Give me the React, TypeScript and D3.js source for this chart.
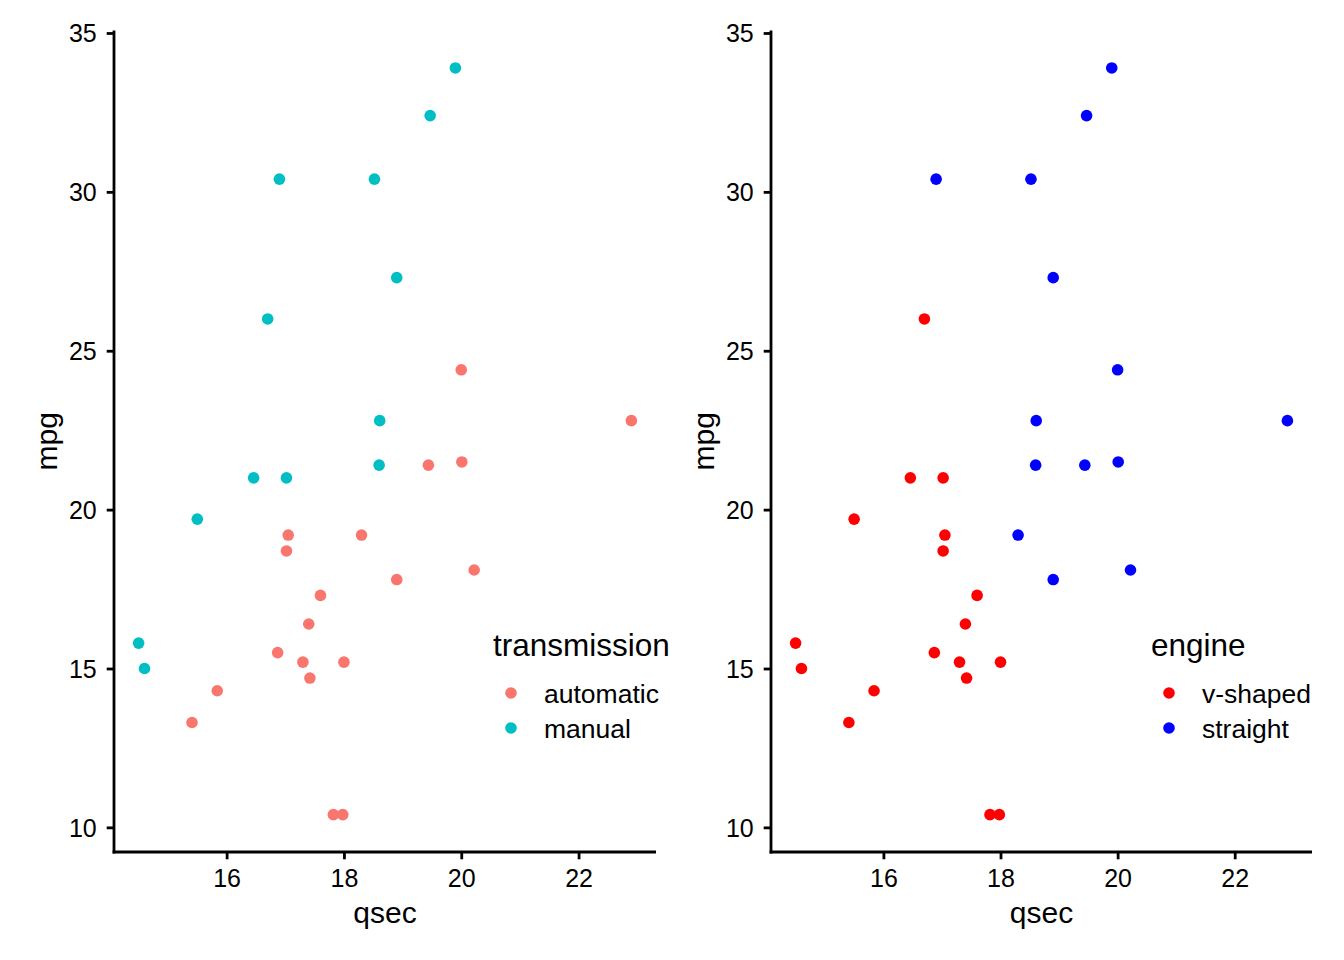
import { useEffect, useRef } from "react";
import * as d3 from "d3";

// mtcars: qsec vs mpg
const qsec = [16.46, 17.02, 18.61, 19.44, 17.02, 20.22, 15.84, 20.0, 22.9, 18.3, 18.9, 17.4, 17.6, 18.0, 17.98, 17.82, 17.42, 19.47, 18.52, 19.9, 20.01, 16.87, 17.3, 15.41, 17.05, 18.9, 16.7, 16.9, 14.5, 15.5, 14.6, 18.6];
const mpg = [21.0, 21.0, 22.8, 21.4, 18.7, 18.1, 14.3, 24.4, 22.8, 19.2, 17.8, 16.4, 17.3, 15.2, 10.4, 10.4, 14.7, 32.4, 30.4, 33.9, 21.5, 15.5, 15.2, 13.3, 19.2, 27.3, 26.0, 30.4, 15.8, 19.7, 15.0, 21.4];
const am = [1, 1, 1, 0, 0, 0, 0, 0, 0, 0, 0, 0, 0, 0, 0, 0, 0, 1, 1, 1, 0, 0, 0, 0, 0, 1, 1, 1, 1, 1, 1, 1];
const vs = [0, 0, 1, 1, 0, 1, 0, 1, 1, 1, 1, 0, 0, 0, 0, 0, 0, 1, 1, 1, 1, 0, 0, 0, 0, 1, 0, 1, 0, 0, 0, 1];

const xTicks = [16, 18, 20, 22];
const yTicks = [10, 15, 20, 25, 30, 35];

const panels = [
  { left: 114, right: 656, legendX: 493, group: am, title: "transmission", labels: ["automatic", "manual"], colors: ["#F8766D", "#00BFC4"] },
  { left: 771, right: 1312, legendX: 1151, group: vs, title: "engine", labels: ["v-shaped", "straight"], colors: ["#FF0000", "#0000FF"] },
];

export default function App() {
  const svgRef = useRef<SVGSVGElement>(null);

  useEffect(() => {
    if (!svgRef.current) return;
    const svg = d3.select(svgRef.current);
    svg.selectAll("*").remove();

    const top = 30.6;
    const bottom = 852;
    const font = "Liberation Sans, Arial, Helvetica, sans-serif";

    const xExt = d3.extent(qsec) as [number, number];
    const yExt = d3.extent(mpg) as [number, number];
    const xPad = (xExt[1] - xExt[0]) * 0.05;
    const yPad = (yExt[1] - yExt[0]) * 0.05;

    panels.forEach((p) => {
      const x = d3.scaleLinear().domain([xExt[0] - xPad, xExt[1] + xPad]).range([p.left, p.right]);
      const y = d3.scaleLinear().domain([yExt[0] - yPad, yExt[1] + yPad]).range([bottom, top]);
      const g = svg.append("g");

      g.selectAll("circle.pt")
        .data(qsec.map((q, i) => ({ q, m: mpg[i], c: p.group[i] })))
        .enter()
        .append("circle")
        .attr("cx", (d) => x(d.q))
        .attr("cy", (d) => y(d.m))
        .attr("r", 5.8)
        .attr("fill", (d) => p.colors[d.c]);

      // x axis
      const xa = g.append("g").attr("transform", `translate(0,${bottom})`)
        .call(d3.axisBottom(x).tickValues(xTicks).tickSize(7.3).tickPadding(10).tickFormat(d3.format("d")));
      xa.select(".domain").attr("stroke", "#000").attr("stroke-width", 2.8).attr("d", `M${p.left - 1.4},0H${p.right}`);
      xa.selectAll(".tick line").attr("stroke", "#000").attr("stroke-width", 2.8);
      xa.selectAll("text").attr("fill", "#000").attr("font-size", 25).attr("font-family", font);

      // y axis
      const ya = g.append("g").attr("transform", `translate(${p.left},0)`)
        .call(d3.axisLeft(y).tickValues(yTicks).tickSize(7.3).tickPadding(10).tickFormat(d3.format("d")));
      ya.select(".domain").attr("stroke", "#000").attr("stroke-width", 2.8).attr("d", `M0,${top}V${bottom + 1.4}`);
      ya.selectAll(".tick line").attr("stroke", "#000").attr("stroke-width", 2.8);
      ya.selectAll("text").attr("fill", "#000").attr("font-size", 25).attr("font-family", font).attr("dy", "0.36em");

      g.append("text")
        .attr("x", (p.left + p.right) / 2)
        .attr("y", 923)
        .attr("text-anchor", "middle")
        .attr("font-size", 30)
        .attr("font-family", font)
        .text("qsec");

      g.append("text")
        .attr("transform", `translate(${p.left - 57},${(top + bottom) / 2}) rotate(-90)`)
        .attr("text-anchor", "middle")
        .attr("font-size", 30)
        .attr("font-family", font)
        .text("mpg");

      // legend
      const lg = svg.append("g").attr("transform", `translate(${p.legendX},0)`);
      lg.append("text")
        .attr("x", 0)
        .attr("y", 656)
        .attr("font-size", 31.5)
        .attr("font-family", font)
        .text(p.title);
      p.labels.forEach((lab, i) => {
        const cy = 693 + i * 35;
        lg.append("circle").attr("cx", 18).attr("cy", cy).attr("r", 5.8).attr("fill", p.colors[i]);
        lg.append("text")
          .attr("x", 51)
          .attr("y", cy + 9.5)
          .attr("font-size", 26.5)
          .attr("font-family", font)
          .text(lab);
      });
    });
  }, []);

  return (
    <svg
      ref={svgRef}
      width={1344}
      height={960}
      style={{ position: "absolute", left: 0, top: 0, background: "#fff" }}
    />
  );
}
